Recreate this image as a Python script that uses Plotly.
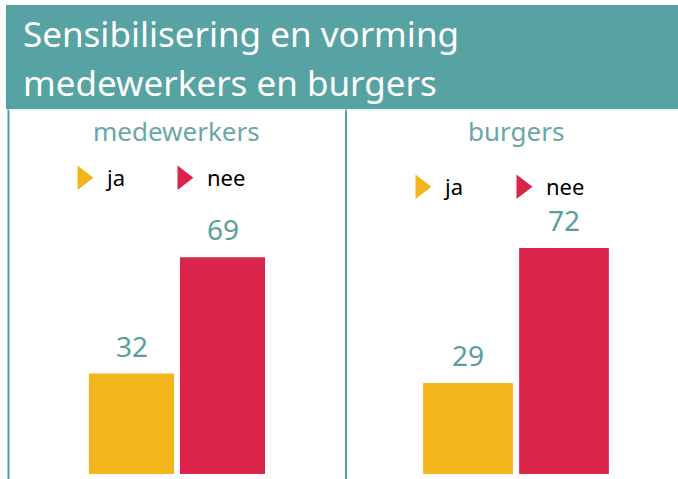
import plotly.graph_objects as go

# ---- data ----
categories = ["ja", "nee"]
panel_titles = ["medewerkers", "burgers"]
medewerkers_values = [32, 69]
burgers_values = [29, 72]
bar_colors = ["#f2b51b", "#da2449"]
title_lines = ["Sensibilisering en vorming", "medewerkers en burgers"]

W, H = 678, 479
TEAL = "#57a2a2"
LABEL_TEAL = "#5b9e9c"

def px(x):
    return x / W

def py(y):
    return 1 - y / H

fig = go.Figure()

panels = [
    (medewerkers_values, "x", "y", "legend"),
    (burgers_values, "x2", "y2", "legend2"),
]

for vals, xa, ya, lg in panels:
    fig.add_trace(go.Bar(
        x=categories, y=vals, marker=dict(color=bar_colors, line=dict(width=0)),
        xaxis=xa, yaxis=ya, showlegend=False, hoverinfo="skip",
    ))
    for cat, col in zip(categories, bar_colors):
        fig.add_trace(go.Scatter(
            x=[None], y=[None], mode="markers", name=cat,
            marker=dict(symbol="triangle-right", size=16, color=col,
                        line=dict(color=col, width=3)),
            xaxis=xa, yaxis=ya, legend=lg, showlegend=True,
        ))
    for cat, v in zip(categories, vals):
        fig.add_annotation(
            x=cat, y=v, xref=xa, yref=ya, text=str(v), showarrow=False,
            yanchor="bottom", yshift=7,
            font=dict(size=28, color=LABEL_TEAL, family="Noto Sans"),
        )

ydom = [py(474), py(110)]
yrange = [0, (474 - 110) / 3.14]

axis_common = dict(showgrid=False, zeroline=False, showticklabels=False,
                   showline=False, ticks="", fixedrange=True)

legend_font = dict(size=22, color="black", family="Noto Sans")

fig.update_layout(
    width=W, height=H,
    margin=dict(l=0, r=0, t=0, b=0),
    paper_bgcolor="white", plot_bgcolor="rgba(0,0,0,0)",
    bargap=0.065,
    xaxis=dict(domain=[px(86), px(268)], range=[-0.5, 1.5], anchor="y", **axis_common),
    yaxis=dict(domain=ydom, range=yrange, anchor="x", **axis_common),
    xaxis2=dict(domain=[px(420), px(612)], range=[-0.5, 1.5], anchor="y2", **axis_common),
    yaxis2=dict(domain=ydom, range=yrange, anchor="x2", **axis_common),
    legend=dict(orientation="h", x=px(59), y=py(178), xanchor="left", yanchor="middle",
                font=legend_font, itemwidth=38,
                entrywidth=47, bgcolor="rgba(0,0,0,0)", itemclick=False),
    legend2=dict(orientation="h", x=px(397), y=py(187), xanchor="left", yanchor="middle",
                 font=legend_font, itemwidth=38,
                 entrywidth=48, bgcolor="rgba(0,0,0,0)", itemclick=False),
    showlegend=True,
)

# header band
fig.add_shape(type="rect", xref="paper", yref="paper",
              x0=px(6), x1=1, y0=py(109), y1=py(5),
              fillcolor=TEAL, line=dict(width=0), layer="below")
# panel lines
fig.add_shape(type="line", xref="paper", yref="paper",
              x0=px(8.5), x1=px(8.5), y0=0, y1=py(109),
              line=dict(color="#5a9c9c", width=2))
fig.add_shape(type="line", xref="paper", yref="paper",
              x0=px(346), x1=px(346), y0=0, y1=py(109),
              line=dict(color="#5a9c9c", width=2))
fig.add_shape(type="line", xref="paper", yref="paper",
              x0=px(8), x1=1, y0=py(110), y1=py(110),
              line=dict(color="#cdeef0", width=1))

# title
for line, yc in zip(title_lines, [34, 83]):
    fig.add_annotation(x=px(21), y=py(yc), xref="paper", yref="paper",
                       text=line, showarrow=False, xanchor="left", yanchor="middle",
                       font=dict(size=35, color="white", family="Noto Sans"))

# panel subtitles
for t, xc in zip(panel_titles, [176, 516]):
    fig.add_annotation(x=px(xc), y=py(131), xref="paper", yref="paper",
                       text=t, showarrow=False, xanchor="center", yanchor="middle",
                       font=dict(size=26, color="#6aa7a5", family="Noto Sans"))

fig.write_html("out.html",
               config={"displayModeBar": False, "staticPlot": True},
               post_script="document.body.style.margin='0';document.body.style.overflow='hidden';")
